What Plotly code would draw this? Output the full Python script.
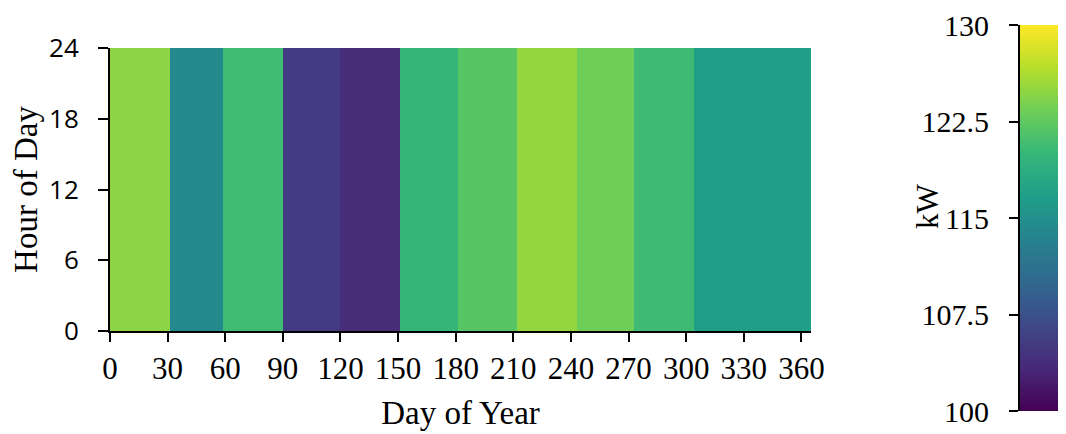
import plotly.graph_objects as go

# Data
month_edges = [0, 31, 59, 90, 120, 151, 181, 212, 243, 273, 304, 334, 365]
hour_edges = [0, 24]
monthly_kw = [124.8, 114.2, 120.6, 105.2, 103.8, 119.8, 122.0, 125.1, 123.4, 120.5, 116.8, 116.8]
x_ticks = [0, 30, 60, 90, 120, 150, 180, 210, 240, 270, 300, 330, 360]
y_ticks = [0, 6, 12, 18, 24]
cbar_ticks = [100, 107.5, 115, 122.5, 130]
zmin, zmax = 100, 130

SERIF = "Liberation Serif"
SANS = "Open Sans"

OFF = 8  # page body margin offset
W, H = 1066, 434
ML = 110 - OFF
MT = 25 - OFF
MB = H - (411 - OFF)
MR = 0
pw = W - ML - MR
ph = H - MT - MB
plot_right = 811 - OFF
plot_top, plot_bottom = 48 - OFF, 331 - OFF
cbar_left = 1020 - OFF

fig = go.Figure()
fig.add_trace(go.Heatmap(
    x=month_edges, y=hour_edges, z=[monthly_kw],
    colorscale="Viridis", zmin=zmin, zmax=zmax,
    xaxis="x", yaxis="y",
    colorbar=dict(
        x=(cbar_left - ML) / pw, xanchor="left", xpad=0,
        y=0.5, yanchor="middle", ypad=0,
        len=1, lenmode="fraction", thickness=W - cbar_left,
        outlinewidth=0, borderwidth=0,
        showticklabels=False, ticks="",
    ),
    hoverinfo="skip",
))
# invisible trace carrying the colorbar's value axis (ticks on the left side)
fig.add_trace(go.Scatter(
    x=[0, 0], y=[zmin, zmax], xaxis="x2", yaxis="y2",
    mode="markers", marker=dict(opacity=0), showlegend=False, hoverinfo="skip",
))

fig.update_layout(
    width=W, height=H,
    margin=dict(l=ML, r=MR, t=MT, b=MB, autoexpand=False),
    paper_bgcolor="white", plot_bgcolor="white",
    showlegend=False,
    xaxis=dict(
        domain=[0, (plot_right - ML) / pw], range=[0, 365], automargin=False,
        tickvals=x_ticks, ticks="outside", ticklen=9, tickwidth=2, tickcolor="black",
        showline=True, linecolor="black", linewidth=2, showgrid=False, zeroline=False,
        tickfont=dict(family=SERIF, size=31, color="black"),
        title=dict(text="Day of Year", font=dict(family=SERIF, size=33, color="black"), standoff=16),
        anchor="y",
    ),
    yaxis=dict(
        domain=[(H - MB - plot_bottom) / ph, (H - MB - plot_top) / ph], range=[0, 24],
        automargin=False,
        tickvals=y_ticks, ticks="outside", ticklen=10, tickwidth=2, tickcolor="black",
        showline=True, linecolor="black", linewidth=2, showgrid=False, zeroline=False,
        tickfont=dict(family=SANS, size=26, color="black"), ticklabelstandoff=14,
        title=dict(text="Hour of Day", font=dict(family=SERIF, size=33, color="black"), standoff=10),
        anchor="x",
    ),
    xaxis2=dict(
        domain=[(cbar_left - ML) / pw, 1], range=[0, 1], visible=False, anchor="y2",
        automargin=False,
    ),
    yaxis2=dict(
        domain=[0, 1], range=[zmin, zmax], anchor="x2", side="left", automargin=False,
        tickvals=cbar_ticks, ticktext=["100", "107.5", "115", "122.5", "130"],
        ticks="outside", ticklen=9, tickwidth=2, tickcolor="black",
        showline=True, linecolor="black", linewidth=2, showgrid=False, zeroline=False,
        tickfont=dict(family=SERIF, size=30, color="black"), ticklabelstandoff=14,
    ),
    annotations=[dict(
        text="kW", xref="paper", yref="paper",
        x=(927 - OFF - ML) / pw, y=(H - MB - (206 - OFF)) / ph, xanchor="center", yanchor="middle",
        textangle=-90, showarrow=False,
        font=dict(family=SERIF, size=31, color="black"),
    )],
)

fig.write_html("out.html")
